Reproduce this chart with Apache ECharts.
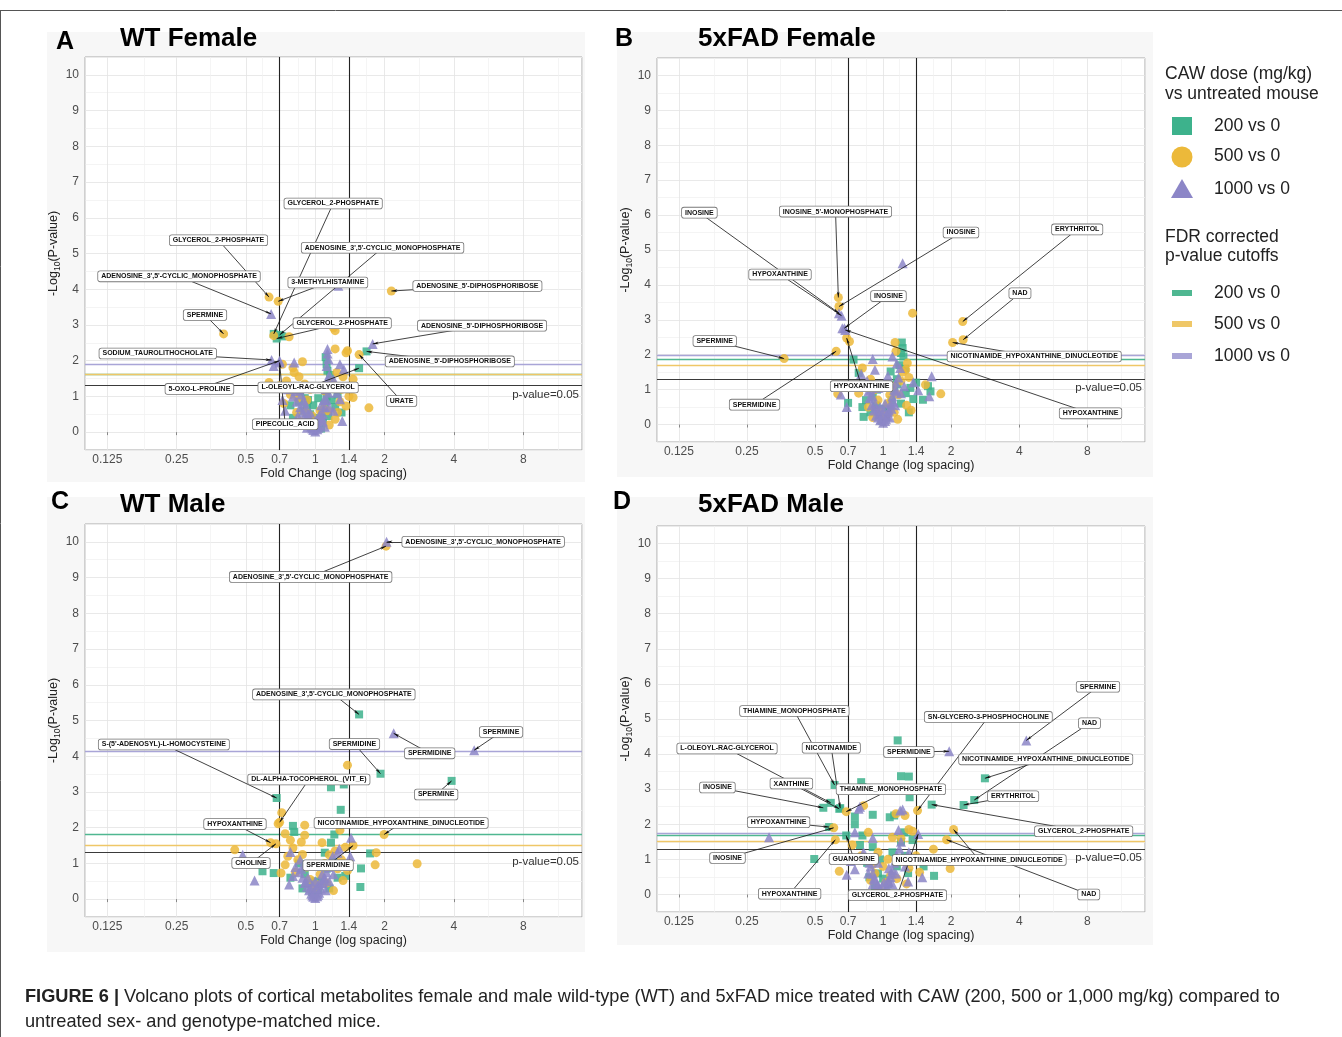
<!DOCTYPE html>
<html><head><meta charset="utf-8">
<script src="https://cdn.jsdelivr.net/npm/echarts@6/dist/echarts.min.js"></script>
<style>html,body{margin:0;padding:0;background:#fff;}#c{width:1342px;height:1037px;}</style>
</head><body><div id="c"></div>
<script>
// ---------- DATA: [fold change, -log10(p)] ----------
const A_green = [[0.66,2.75],[0.70,2.72],[0.68,2.62],[0.72,2.68],[1.55,1.79],[1.67,2.26],[1.13,1.72],[1.12,1.9],[1.16,1.6],[1.11,2.1],[1.2,1.25],[0.82,1.2],[0.86,1.1],[0.9,0.95],[0.92,0.7],[0.95,0.5],[0.97,0.3],[0.99,0.12],[1.02,0.15],[1.05,0.35],[1.07,0.55],[1.1,0.8],[1.12,1.0],[1.15,1.3],[1.18,0.9],[1.22,0.7],[0.88,0.6],[0.85,0.85],[1.08,0.25],[0.94,0.2],[1.25,1.05],[0.8,0.4],[1.3,0.55],[1.14,0.45],[0.78,0.75],[1.17,1.45],[0.98,0.75],[1.03,0.95],[0.99,0.4],[1.06,0.1],[0.93,0.9]];
const A_yellow = [[0.69,3.66],[0.63,3.78],[0.40,2.75],[0.66,2.7],[0.77,2.67],[2.14,3.95],[1.55,2.17],[1.22,2.84],[1.2,2.92],[1.22,2.33],[1.38,2.28],[1.36,2.22],[0.88,1.97],[0.81,1.67],[0.72,1.9],[0.75,1.43],[0.63,1.39],[1.24,1.67],[1.46,1.48],[1.46,0.97],[1.36,0.73],[1.71,0.68],[1.22,0.36],[0.85,1.55],[0.9,1.35],[1.3,1.2],[1.4,1.0],[0.78,1.05],[0.83,0.55],[0.86,0.3],[1.05,0.6],[1.1,1.15],[1.18,1.4],[1.28,0.85],[0.73,0.8],[0.95,1.2],[0.92,0.9],[1.15,0.2],[1.25,0.55],[0.7,1.3],[0.8,1.8],[1.32,1.55],[0.97,0.45],[1.04,0.3],[0.91,0.55],[1.09,0.65],[0.84,0.95],[1.13,0.6]];
const A_purple = [[0.643,3.31],[0.646,2.02],[0.70,2.0],[0.70,1.95],[1.775,2.47],[1.26,4.1],[1.13,2.33],[1.13,2.2],[1.14,2.05],[1.12,1.85],[1.15,1.6],[1.13,1.45],[0.81,1.95],[0.66,1.85],[1.28,1.9],[1.33,1.76],[1.2,1.48],[1.24,1.1],[1.28,0.92],[1.31,0.31],[0.76,1.2],[0.8,1.0],[0.83,0.85],[0.86,0.7],[0.88,0.55],[0.9,0.45],[0.92,0.35],[0.94,0.25],[0.96,0.15],[0.98,0.06],[1.0,0.02],[1.02,0.08],[1.04,0.2],[1.06,0.35],[1.08,0.5],[1.1,0.7],[1.12,0.9],[1.14,1.1],[1.16,1.25],[1.18,1.35],[0.84,0.45],[0.88,0.25],[0.92,0.12],[1.04,0.45],[1.08,0.3],[1.1,0.15],[0.95,0.55],[0.9,0.8],[1.06,0.75],[1.0,0.3],[0.82,1.15],[0.72,0.9],[0.74,0.6],[1.2,0.6],[0.97,0.1],[1.03,0.12],[0.95,0.35],[1.05,0.5],[0.93,0.5],[1.07,0.4],[0.91,0.65],[1.09,0.9],[0.89,0.9],[1.11,1.2],[0.87,1.05],[1.13,1.3],[0.99,0.2],[1.01,0.35],[0.85,1.2],[1.15,0.7]];

const B_green = [[1.21,2.35],[1.22,2.19],[1.2,2.05],[1.23,1.95],[0.74,1.86],[0.78,1.48],[1.08,1.52],[1.58,1.1],[1.5,0.71],[1.36,0.73],[0.70,0.62],[0.82,0.22],[0.81,0.5],[1.25,1.6],[1.15,1.3],[0.86,1.05],[0.9,0.8],[0.93,0.55],[0.96,0.3],[0.99,0.1],[1.03,0.2],[1.06,0.45],[1.09,0.7],[1.12,0.95],[1.16,1.15],[1.2,0.6],[1.26,0.9],[1.3,0.35],[0.84,0.7],[0.88,0.35],[1.4,1.2],[1.62,0.95],[0.76,1.1],[1.18,1.7],[1.32,1.05],[1.01,0.45],[0.94,1.0]];
const B_yellow = [[0.634,3.64],[0.638,3.38],[0.69,2.48],[0.71,2.38],[0.365,1.89],[0.62,2.1],[2.25,2.95],[2.26,2.43],[2.03,2.35],[1.35,3.19],[1.13,2.35],[1.28,1.76],[1.26,1.57],[0.81,1.62],[1.54,1.14],[1.8,0.88],[1.33,0.41],[0.63,0.88],[1.14,2.1],[1.22,1.5],[0.88,1.3],[0.92,1.0],[0.95,0.7],[1.05,0.6],[1.1,1.1],[1.17,0.85],[1.2,1.25],[0.86,0.5],[1.27,0.55],[1.02,0.25],[1.3,1.35],[0.78,0.9],[1.12,0.35],[0.9,0.2],[1.16,0.15],[0.97,0.35],[1.07,0.85]];
const B_purple = [[0.638,3.19],[0.655,3.12],[0.66,2.76],[0.674,2.76],[0.68,2.71],[1.22,4.62],[1.1,1.95],[0.9,1.88],[0.92,1.57],[1.19,1.62],[1.36,1.21],[1.64,1.38],[1.6,0.81],[1.43,0.98],[0.65,0.86],[0.69,0.5],[1.15,1.75],[1.05,1.4],[0.85,1.25],[0.88,1.0],[0.9,0.8],[0.92,0.6],[0.94,0.45],[0.96,0.3],[0.98,0.15],[1.0,0.05],[1.02,0.1],[1.04,0.25],[1.06,0.4],[1.08,0.6],[1.1,0.8],[1.12,1.0],[1.14,1.2],[1.17,1.35],[0.87,0.75],[0.93,0.25],[1.07,0.2],[1.13,0.55],[0.97,0.5],[1.02,0.6],[1.24,1.1],[1.2,0.9],[0.8,1.45],[0.95,1.05],[0.97,0.12],[1.03,0.15],[0.95,0.2],[1.05,0.35],[0.91,0.4],[1.09,0.45],[0.89,0.55],[1.11,0.65],[0.99,0.3],[1.01,0.4],[0.86,0.95],[1.15,0.95]];

const C_green = [[1.55,5.17],[0.68,2.83],[1.92,3.51],[3.91,3.31],[1.17,3.13],[1.33,3.21],[1.29,2.5],[1.21,1.81],[1.17,1.58],[1.73,1.28],[1.58,0.86],[1.57,0.34],[1.35,0.65],[0.8,2.05],[0.81,1.88],[0.59,0.78],[0.66,0.73],[1.1,1.3],[0.85,1.0],[0.9,0.7],[0.93,0.45],[0.97,0.2],[1.03,0.25],[1.07,0.5],[1.12,0.85],[1.2,1.05],[1.25,0.6],[0.88,0.3],[0.78,0.6],[1.4,0.9],[1.15,0.3],[1.0,0.5],[0.95,0.9]];
const C_yellow = [[2.03,9.88],[1.38,3.75],[0.715,2.42],[0.70,2.15],[0.69,2.11],[0.64,1.58],[0.675,1.55],[1.99,1.81],[1.46,1.5],[1.28,1.93],[1.84,1.3],[1.82,0.96],[2.77,0.99],[1.38,0.8],[1.32,0.52],[0.74,1.83],[0.9,2.07],[0.9,1.79],[0.447,1.38],[0.74,0.96],[0.71,0.73],[0.87,1.6],[0.8,1.43],[1.07,1.58],[1.15,1.24],[1.2,0.24],[0.76,1.2],[0.84,1.1],[0.92,0.9],[0.95,0.55],[1.05,0.7],[1.1,1.0],[1.22,1.35],[1.3,1.1],[0.82,0.75],[0.98,0.3],[1.12,0.45],[1.25,0.85],[0.78,1.65],[1.35,1.45],[1.02,0.4],[0.88,1.25]];
const C_purple = [[2.04,10.0],[2.19,4.64],[4.9,4.17],[1.43,1.72],[1.42,1.2],[0.484,1.24],[0.545,0.52],[0.77,0.41],[0.78,1.32],[1.27,1.41],[0.82,0.9],[0.85,0.75],[0.88,0.6],[0.9,0.45],[0.92,0.35],[0.94,0.25],[0.96,0.15],[0.98,0.07],[1.0,0.03],[1.02,0.08],[1.04,0.18],[1.06,0.3],[1.08,0.45],[1.1,0.6],[1.12,0.75],[1.14,0.9],[1.16,1.05],[1.19,1.2],[0.86,1.1],[0.9,0.95],[0.93,0.6],[0.97,0.4],[1.03,0.4],[1.07,0.7],[1.11,0.25],[1.2,0.7],[1.25,1.3],[0.8,0.65],[1.0,0.5],[1.15,0.5],[0.97,0.1],[1.03,0.12],[0.95,0.3],[1.05,0.45],[0.91,0.5],[1.09,0.55],[0.99,0.2],[1.01,0.3],[0.87,0.85],[1.13,0.95]];

const D_green = [[2.53,2.69],[2.82,3.31],[2.27,2.55],[1.64,2.56],[0.61,3.12],[0.646,2.46],[0.587,2.61],[0.64,2.44],[0.544,2.47],[0.577,1.92],[0.687,1.68],[1.16,4.39],[1.2,3.37],[1.3,3.36],[1.31,2.77],[0.8,3.2],[0.81,3.06],[1.12,2.25],[1.07,2.2],[0.9,2.27],[0.75,2.22],[0.75,2.0],[1.24,1.77],[0.81,1.68],[1.51,0.8],[1.68,0.53],[1.29,0.61],[0.496,1.01],[0.87,0.49],[0.79,1.41],[0.9,1.35],[1.2,1.5],[1.1,1.2],[0.85,0.9],[0.95,0.6],[1.05,0.3],[1.15,0.8],[0.92,0.2],[1.25,1.1],[1.35,1.55],[1.0,0.45],[0.97,1.0]];
const D_yellow = [[1.42,2.39],[1.91,1.56],[2.05,1.85],[0.687,2.36],[0.605,1.9],[0.615,1.56],[1.25,2.25],[1.14,2.3],[0.82,2.53],[0.86,1.77],[1.3,1.85],[1.1,1.63],[1.67,1.29],[1.98,0.74],[1.45,0.63],[0.64,0.66],[0.73,1.41],[1.35,1.8],[1.2,1.6],[0.95,1.2],[1.0,0.8],[1.05,1.0],[0.9,0.85],[1.15,0.45],[1.22,0.95],[0.8,1.1],[1.3,0.75],[0.88,0.4],[1.08,0.55],[1.4,1.1],[1.27,0.3],[0.96,0.15],[1.03,0.35],[0.92,0.6]];
const D_purple = [[4.3,4.39],[1.96,4.08],[1.43,1.72],[1.19,2.39],[1.22,2.42],[0.79,2.5],[0.78,2.44],[0.75,1.77],[0.9,1.61],[1.17,1.84],[1.49,0.49],[1.29,0.37],[0.69,0.56],[0.313,1.63],[0.75,0.72],[0.82,1.2],[0.85,1.0],[0.88,0.8],[0.9,0.6],[0.92,0.45],[0.94,0.3],[0.96,0.18],[0.98,0.08],[1.0,0.03],[1.02,0.09],[1.04,0.2],[1.06,0.35],[1.08,0.5],[1.1,0.7],[1.12,0.9],[1.15,1.1],[1.18,1.3],[1.2,1.5],[0.86,0.6],[0.9,0.3],[1.06,0.75],[1.1,0.3],[1.25,0.8],[1.3,1.2],[0.95,0.9],[0.72,0.95],[0.97,0.12],[1.03,0.14],[0.95,0.25],[1.05,0.4],[0.91,0.45],[1.09,0.6],[0.99,0.25],[1.01,0.35],[0.87,0.9],[1.14,0.6]];

// FDR corrected cutoffs (-log10 p): [200 vs 0, 500 vs 0, 1000 vs 0]
const A_cutoffs = [1.63, 1.63, 1.89];
const B_cutoffs = [1.86, 1.70, 1.99];
const C_cutoffs = [1.81, 1.51, 4.14];
const D_cutoffs = [1.70, 1.53, 1.74];
const P_CUTOFF = 1.301;       // -log10(0.05)
const FC_CUTOFFS = [0.7, 1.4];
const X_MINOR = [0.177, 0.354, 0.59, 0.837, 1.183, 1.673, 2.83, 5.66, 11.3];

// annotations: [label, point fc, point y, label fc, label y]
const A_notes = [
 ['GLYCEROL_2-PHOSPHATE',0.66,2.75,1.196,6.40],
 ['GLYCEROL_2-PHOSPHATE',0.63,3.78,0.38,5.37],
 ["ADENOSINE_3',5'-CYCLIC_MONOPHOSPHATE",0.70,2.72,1.96,5.16],
 ["ADENOSINE_3',5'-CYCLIC_MONOPHOSPHATE",0.643,3.31,0.256,4.36],
 ['3-METHYLHISTAMINE',0.69,3.66,1.134,4.19],
 ['SPERMINE',0.40,2.75,0.332,3.28],
 ['GLYCEROL_2-PHOSPHATE',0.68,2.62,1.309,3.05],
 ['SODIUM_TAUROLITHOCHOLATE',0.646,2.02,0.207,2.2],
 ['5-OXO-L-PROLINE',0.70,2.0,0.314,1.21],
 ['L-OLEOYL-RAC-GLYCEROL',1.55,1.79,0.931,1.25],
 ['PIPECOLIC_ACID',0.70,1.95,0.74,0.22],
 ["ADENOSINE_5'-DIPHOSPHORIBOSE",2.14,3.95,5.06,4.09],
 ["ADENOSINE_5'-DIPHOSPHORIBOSE",1.775,2.47,5.3,2.98],
 ["ADENOSINE_5'-DIPHOSPHORIBOSE",1.67,2.26,3.84,1.98],
 ['URATE',1.55,2.17,2.37,0.87]
];
const B_notes = [
 ['INOSINE',0.638,3.19,0.154,6.07],
 ["INOSINE_5'-MONOPHOSPHATE",0.634,3.64,0.616,6.1],
 ['INOSINE',0.638,3.38,2.21,5.5],
 ['HYPOXANTHINE',0.655,3.12,0.35,4.30],
 ['INOSINE',0.674,2.76,1.056,3.68],
 ['HYPOXANTHINE',0.68,2.71,8.27,0.32],
 ['HYPOXANTHINE',0.69,2.48,0.803,1.10],
 ['SPERMINE',0.365,1.89,0.18,2.39],
 ['SPERMIDINE',0.62,2.1,0.27,0.57],
 ['ERYTHRITOL',2.25,2.95,7.22,5.59],
 ['NAD',2.26,2.43,4.03,3.76],
 ['NICOTINAMIDE_HYPOXANTHINE_DINUCLEOTIDE',2.03,2.35,4.66,1.95]
];
const C_notes = [
 ["ADENOSINE_3',5'-CYCLIC_MONOPHOSPHATE",2.04,10.0,5.36,10.0],
 ["ADENOSINE_3',5'-CYCLIC_MONOPHOSPHATE",2.03,9.88,0.955,9.02],
 ["ADENOSINE_3',5'-CYCLIC_MONOPHOSPHATE",1.55,5.17,1.204,5.73],
 ["S-(5'-ADENOSYL)-L-HOMOCYSTEINE",0.68,2.83,0.22,4.33],
 ['DL-ALPHA-TOCOPHEROL_(VIT_E)',0.70,2.15,0.938,3.35],
 ['HYPOXANTHINE',0.64,1.58,0.448,2.10],
 ['CHOLINE',0.675,1.55,0.526,1.01],
 ['SPERMIDINE',1.92,3.51,1.48,4.34],
 ['SPERMIDINE',2.19,4.64,3.14,4.08],
 ['SPERMINE',4.9,4.17,6.41,4.68],
 ['SPERMINE',3.91,3.31,3.35,2.93],
 ['NICOTINAMIDE_HYPOXANTHINE_DINUCLEOTIDE',1.99,1.81,2.36,2.13],
 ['SPERMIDINE',1.46,1.5,1.137,0.95]
];
const D_notes = [
 ['SPERMINE',4.3,4.39,8.92,5.92],
 ['NAD',2.53,2.69,8.18,4.88],
 ['SN-GLYCERO-3-PHOSPHOCHOLINE',1.42,2.39,2.92,5.06],
 ['SPERMIDINE',1.96,4.08,1.30,4.06],
 ['NICOTINAMIDE_HYPOXANTHINE_DINUCLEOTIDE',2.82,3.31,5.24,3.85],
 ['ERYTHRITOL',2.27,2.55,3.76,2.8],
 ['GLYCEROL_2-PHOSPHATE',1.64,2.56,7.71,1.8],
 ['NAD',1.91,1.56,8.12,0.0],
 ['NICOTINAMIDE_HYPOXANTHINE_DINUCLEOTIDE',2.05,1.85,2.66,0.98],
 ['GLYCEROL_2-PHOSPHATE',1.43,1.72,1.157,-0.02],
 ['THIAMINE_MONOPHOSPHATE',0.61,3.12,0.405,5.23],
 ['THIAMINE_MONOPHOSPHATE',0.687,2.36,1.083,3.0],
 ['NICOTINAMIDE',0.646,2.46,0.59,4.18],
 ['L-OLEOYL-RAC-GLYCEROL',0.587,2.61,0.204,4.16],
 ['XANTHINE',0.64,2.44,0.393,3.16],
 ['INOSINE',0.544,2.47,0.185,3.05],
 ['HYPOXANTHINE',0.577,1.92,0.345,2.06],
 ['INOSINE',0.605,1.9,0.205,1.04],
 ['GUANOSINE',0.687,1.68,0.742,1.01],
 ['HYPOXANTHINE',0.615,1.56,0.386,0.02]
];

const PANEL_TITLES = ['WT Female','5xFAD Female','WT Male','5xFAD Male'];
const PANEL_LETTERS = ['A','B','C','D'];
const DOSES = ['200 vs 0','500 vs 0','1000 vs 0'];

// ---------- STYLE / LAYOUT ----------
const FONT = 'Liberation Sans, Arial, Helvetica, sans-serif';
const COL = ['#3db28c','#ecb93a','#8c86c7'];
const CUTCOL = ['#4fb791','#efc767','#a9a5d7'];
const BOX = [
 {left:85, top:57, width:497, height:393},
 {left:657, top:58, width:488, height:384},
 {left:85, top:524, width:497, height:393},
 {left:657, top:526, width:488, height:386}
];
const PANEL_BG = [[47,32,538,450],[617,32,536,445],[47,497,538,455],[617,497,536,448]];
const TITLE_POS = [[65,42,120,39],[624,39,698,39],[60,502,120,505],[622,502,698,505]];

const panels = [
 {g:A_green,y:A_yellow,p:A_purple,cut:A_cutoffs,notes:A_notes},
 {g:B_green,y:B_yellow,p:B_purple,cut:B_cutoffs,notes:B_notes},
 {g:C_green,y:C_yellow,p:C_purple,cut:C_cutoffs,notes:C_notes},
 {g:D_green,y:D_yellow,p:D_purple,cut:D_cutoffs,notes:D_notes}
];

const grid=[], xAxis=[], yAxis=[], series=[], graphic=[];

panels.forEach((pn,i)=>{
  const b = BOX[i];
  grid.push({left:b.left, top:b.top, width:b.width, height:b.height, show:true,
    backgroundColor:'#ffffff', borderColor:'#a8a8a8', borderWidth:1});
  xAxis.push({type:'log', logBase:2, gridIndex:i, min:0.1, max:14.4,
    name:'Fold Change (log spacing)', nameLocation:'middle', nameGap:16,
    nameTextStyle:{fontSize:12.5, color:'#222', fontFamily:FONT},
    axisLine:{show:false},
    axisTick:{show:true, length:3, lineStyle:{color:'#888'}},
    axisLabel:{fontSize:12, color:'#4d4d4d', margin:4, fontFamily:FONT, showMinLabel:false, showMaxLabel:false},
    splitLine:{show:true, lineStyle:{color:'#e3e3e3', width:0.8}}
  });
  yAxis.push({type:'value', gridIndex:i, min:-0.5, max:10.5, interval:0.5,
    name:'{n|-Log}{s|10}{n|(P-value)}', nameLocation:'middle', nameGap:18,
    nameTextStyle:{color:'#222', fontFamily:FONT, rich:{n:{fontSize:12.5, fontFamily:FONT, color:'#222', verticalAlign:'bottom'}, s:{fontSize:8.5, fontFamily:FONT, color:'#222', verticalAlign:'bottom', padding:[0,0,-2,0]}}},
    axisLine:{show:false}, axisTick:{show:false},
    axisLabel:{fontSize:12, color:'#4d4d4d', margin:6, fontFamily:FONT,
      formatter:v=>{const r=Math.round(v); return (Math.abs(v-r)<1e-6 && r>=0 && r<=10)? String(r):'';}},
    splitLine:{show:true, lineStyle:{color:['#f1f1f1','#e3e3e3'], width:0.8}}
  });

  const refs = [];
  X_MINOR.forEach(v=>refs.push({xAxis:v, lineStyle:{color:'#f0f0f0', width:0.7, type:'solid'}, label:{show:false}}));
  pn.cut.forEach((c,k)=>refs.push({yAxis:c, lineStyle:{color:CUTCOL[k], width:1.3, type:'solid'}, label:{show:false}}));
  refs.push({yAxis:P_CUTOFF, lineStyle:{color:'#3a3a3a', width:1.1, type:'solid'},
    label:{show:true, position:'insideEndBottom', formatter:'p-value=0.05', color:'#333', fontSize:11.5, fontFamily:FONT, distance:3}});
  FC_CUTOFFS.forEach(v=>refs.push({xAxis:v, lineStyle:{color:'#222', width:1.1, type:'solid'},
    label:{show:true, position:'start', formatter:String(v), color:'#4d4d4d', fontSize:12, fontFamily:FONT, distance:4}}));
  series.push({type:'scatter', xAxisIndex:i, yAxisIndex:i, data:[], silent:true,
    markLine:{silent:true, animation:false, symbol:'none', z:1, label:{show:false}, data:refs}});

  const pts = [[pn.g,'rect',8],[pn.y,'circle',9],[pn.p,'triangle',10]];
  pts.forEach((s,k)=>{
    series.push({type:'scatter', name:DOSES[k], xAxisIndex:i, yAxisIndex:i, data:s[0],
      symbol:s[1], symbolSize:s[2], z:3, itemStyle:{color:COL[k], opacity:0.85}, silent:true});
  });

  series.push({type:'scatter', xAxisIndex:i, yAxisIndex:i, data:[], silent:true,
    markLine:{silent:true, animation:false, z:8, symbol:['none','arrow'], symbolSize:[2,6], label:{show:false},
      lineStyle:{color:'#111', width:0.8, type:'solid'},
      data: pn.notes.map(n=>[{coord:[n[3],n[4]]},{coord:[n[1],n[2]]}])}});
  series.push({type:'scatter', xAxisIndex:i, yAxisIndex:i, data:[], silent:true,
    markPoint:{silent:true, animation:false, z:9, symbol:'rect', symbolSize:1, itemStyle:{color:'rgba(0,0,0,0)'},
      label:{show:true, position:'inside', formatter:'{b}', fontSize:7, fontWeight:'bold', color:'#111', fontFamily:FONT,
        backgroundColor:'#ffffff', borderColor:'#777', borderWidth:0.8, borderRadius:2, padding:[2,3,1,3]},
      data: pn.notes.map(n=>({name:n[0], coord:[n[3],n[4]]}))}});

  const bg = PANEL_BG[i];
  graphic.push({type:'rect', z:-100, shape:{x:bg[0], y:bg[1], width:bg[2], height:bg[3]}, style:{fill:'#f7f7f7'}, silent:true});
  const t = TITLE_POS[i];
  graphic.push({type:'text', z:10, x:t[0], y:t[1], style:{text:PANEL_LETTERS[i], font:'bold 25px '+FONT, fill:'#000', align:'center', verticalAlign:'middle'}});
  graphic.push({type:'text', z:10, x:t[2], y:t[3], style:{text:PANEL_TITLES[i], font:'bold 26px '+FONT, fill:'#000', align:'left', verticalAlign:'middle'}});
});

// frame
graphic.push({type:'line', shape:{x1:0, y1:10.5, x2:1342, y2:10.5}, style:{stroke:'#555', lineWidth:1}});
graphic.push({type:'line', shape:{x1:0.5, y1:10, x2:0.5, y2:1037}, style:{stroke:'#555', lineWidth:1}});

// legend
const LF = '17.5px '+FONT;
graphic.push({type:'text', x:1165, y:74, style:{text:'CAW dose (mg/kg)', font:LF, fill:'#222', verticalAlign:'middle'}});
graphic.push({type:'text', x:1165, y:94, style:{text:'vs untreated mouse', font:LF, fill:'#222', verticalAlign:'middle'}});
graphic.push({type:'rect', shape:{x:1172, y:117, width:20, height:18}, style:{fill:COL[0]}});
graphic.push({type:'circle', shape:{cx:1182, cy:157, r:10.5}, style:{fill:COL[1]}});
graphic.push({type:'polygon', shape:{points:[[1182,179],[1171,198],[1193,198]]}, style:{fill:COL[2]}});
[126,156,189].forEach((yy,k)=>graphic.push({type:'text', x:1214, y:yy, style:{text:DOSES[k], font:LF, fill:'#222', verticalAlign:'middle'}}));
graphic.push({type:'text', x:1165, y:237, style:{text:'FDR corrected', font:LF, fill:'#222', verticalAlign:'middle'}});
graphic.push({type:'text', x:1165, y:256, style:{text:'p-value cutoffs', font:LF, fill:'#222', verticalAlign:'middle'}});
[293,324,356].forEach((yy,k)=>{
  graphic.push({type:'rect', shape:{x:1172, y:yy-3, width:20, height:6}, style:{fill:CUTCOL[k]}});
  graphic.push({type:'text', x:1214, y:yy, style:{text:DOSES[k], font:LF, fill:'#222', verticalAlign:'middle'}});
});

// caption
graphic.push({type:'text', x:25, y:997, style:{
  text:'{b|FIGURE 6 |} Volcano plots of cortical metabolites female and male wild-type (WT) and 5xFAD mice treated with CAW (200, 500 or 1,000 mg/kg) compared to',
  font:'18.2px '+FONT, fill:'#222', verticalAlign:'middle',
  rich:{b:{font:'bold 18.2px '+FONT, fill:'#222'}}}});
graphic.push({type:'text', x:25, y:1022, style:{text:'untreated sex- and genotype-matched mice.', font:'18.2px '+FONT, fill:'#222', verticalAlign:'middle'}});

const chart = echarts.init(document.getElementById('c'), null, {renderer:'canvas'});
chart.setOption({animation:false, backgroundColor:'#ffffff', textStyle:{fontFamily:FONT}, grid, xAxis, yAxis, series, graphic});
</script></body></html>
